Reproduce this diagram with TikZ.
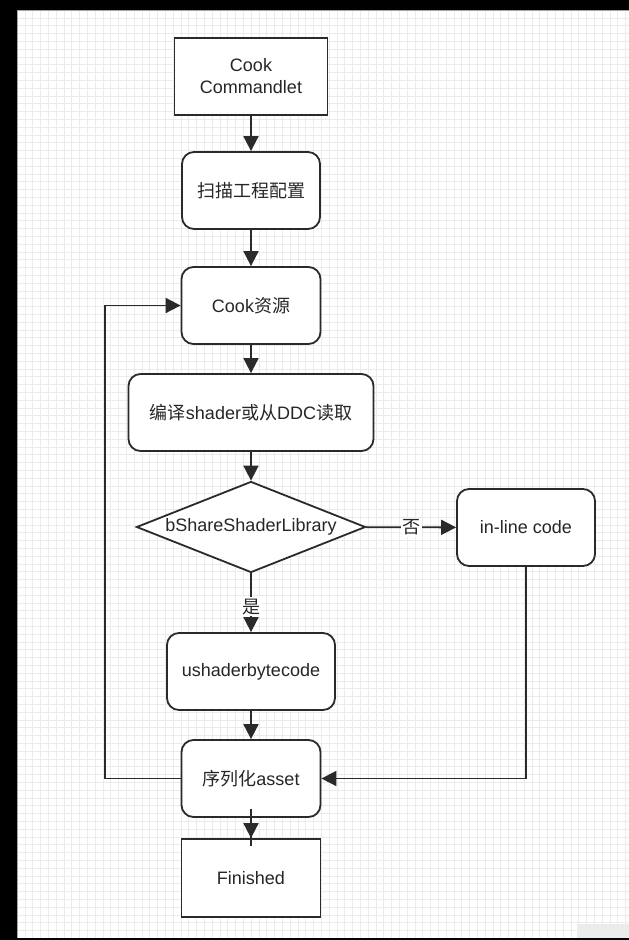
\documentclass[tikz,border=0pt]{standalone}
\usepackage{fontspec}
\setmainfont{Liberation Sans}
\newfontfamily\cjk{Noto Sans CJK SC}
\usetikzlibrary{shapes.geometric,arrows.meta}
\definecolor{ink}{HTML}{2A2A2A}
\definecolor{textc}{HTML}{262626}
\definecolor{gridc}{HTML}{EBEBEB}
\begin{document}
\begin{tikzpicture}[x=1pt,y=-1pt,
  txt/.style={text=textc, font=\fontsize{18}{22}\selectfont},
  box/.style={txt, draw=ink, line width=1.8pt, fill=white, minimum height=77pt, inner sep=0pt, align=center},
  rbox/.style={box, rounded corners=12pt},
  dia/.style={txt, draw=ink, line width=1.8pt, fill=white, diamond, aspect=2.52, inner sep=0pt, minimum width=229pt, minimum height=91pt},
  arr/.style={draw=ink, line width=1.8pt, -{Triangle[length=15pt,width=15pt]}},
  plain/.style={draw=ink, line width=1.8pt},
  lbl/.style={txt, fill=white, inner sep=1.5pt}]
\useasboundingbox (0,0) rectangle (629,940);
% background
\fill[black] (0,0) rectangle (629,940);
\fill[white] (17,10) rectangle (629,938);
\foreach \k in {0,...,78} { \draw[gridc, line width=0.6pt] ({17+7.8*\k},10) -- ({17+7.8*\k},938); }
\foreach \k in {0,...,118} { \draw[gridc, line width=0.6pt] (17,{10+7.8*\k}) -- (629,{10+7.8*\k}); }
\draw[gray!70, line width=0.8pt] (17.4,938) -- (17.4,10.4) -- (629,10.4);
\fill[gray!15] (577,924) rectangle (629,938);
% nodes
\node[box, minimum width=153pt] (cmd) at (251,76.5) {Cook\\Commandlet};
\node[rbox, minimum width=138pt] (scan) at (251,190.5) {\cjk 扫描工程配置};
\node[rbox, minimum width=139pt] (cook) at (251,305.5) {Cook{\cjk 资源}};
\node[rbox, minimum width=245pt] (comp) at (251,412.5) {{\cjk 编译}shader{\cjk 或从}DDC{\cjk 读取}};
\node[dia] (dec) at (251,527) {bShareShaderLibrary};
\node[rbox, minimum width=138pt] (inl) at (526,527.5) {in-line code};
\node[rbox, minimum width=168pt] (ush) at (251,671.5) {ushaderbytecode};
\node[rbox, minimum width=139pt] (ser) at (251,778.5) {{\cjk 序列化}asset};
\node[box, minimum width=139pt, minimum height=78pt] (fin) at (251,878) {Finished};
% connectors
\draw[arr] (cmd) -- (scan);
\draw[arr] (scan) -- (cook);
\draw[arr] (cook) -- (comp);
\draw[arr] (comp) -- (dec);
\draw[arr] (dec) -- node[lbl] {\cjk 否} (inl);
\draw[arr] (dec) -- node[lbl, pos=0.57] {\cjk 是} (ush);
\draw[arr] (ush) -- (ser);
\draw[plain] ([yshift=9pt]ser.south) -- ([yshift=-8pt]fin.north);
\draw[arr] ([yshift=9pt]ser.south) -- (fin.north);
\draw[arr] (inl.south) |- (ser.east);
\draw[arr] (ser.west) -- ++(-76,0) |- (cook.west);
\end{tikzpicture}
\end{document}
